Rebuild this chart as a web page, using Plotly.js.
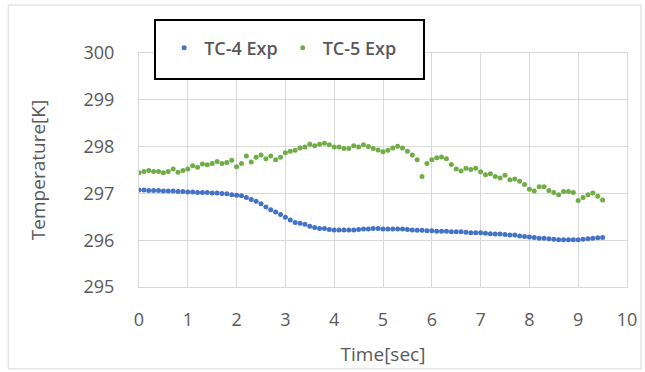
<!DOCTYPE html>
<html>
<head>
<meta charset="utf-8">
<script src="https://cdn.plot.ly/plotly-3.0.1.min.js"></script>
<style>html,body{margin:0;padding:0;background:#fff;}#chart{width:645px;height:372px;}</style>
</head>
<body>
<div id="chart"></div>
<script>
var timeSec = [0.0,0.1,0.2,0.3,0.4,0.5,0.6,0.7,0.8,0.9,1.0,1.1,1.2,1.3,1.4,1.5,1.6,1.7,1.8,1.9,
  2.0,2.1,2.2,2.3,2.4,2.5,2.6,2.7,2.8,2.9,3.0,3.1,3.2,3.3,3.4,3.5,3.6,3.7,3.8,3.9,
  4.0,4.1,4.2,4.3,4.4,4.5,4.6,4.7,4.8,4.9,5.0,5.1,5.2,5.3,5.4,5.5,5.6,5.7,5.8,5.9,
  6.0,6.1,6.2,6.3,6.4,6.5,6.6,6.7,6.8,6.9,7.0,7.1,7.2,7.3,7.4,7.5,7.6,7.7,7.8,7.9,
  8.0,8.1,8.2,8.3,8.4,8.5,8.6,8.7,8.8,8.9,9.0,9.1,9.2,9.3,9.4,9.5];

var tc4Exp = [297.07,297.07,297.06,297.06,297.06,297.05,297.05,297.05,297.04,297.04,
  297.03,297.03,297.02,297.02,297.02,297.01,297.01,297.00,296.99,296.97,
  296.96,296.95,296.91,296.87,296.83,296.78,296.71,296.65,296.60,296.55,
  296.49,296.43,296.38,296.36,296.34,296.30,296.27,296.25,296.25,296.23,
  296.22,296.22,296.22,296.22,296.22,296.23,296.24,296.24,296.25,296.25,
  296.24,296.24,296.24,296.24,296.24,296.23,296.22,296.21,296.21,296.20,
  296.20,296.19,296.19,296.19,296.18,296.18,296.18,296.17,296.16,296.16,
  296.16,296.15,296.14,296.13,296.13,296.12,296.11,296.11,296.09,296.08,
  296.07,296.06,296.04,296.04,296.03,296.02,296.01,296.01,296.01,296.01,
  296.01,296.02,296.03,296.04,296.05,296.06];

var tc5Exp = [297.44,297.47,297.49,297.47,297.47,297.44,297.47,297.52,297.45,297.49,
  297.52,297.59,297.56,297.63,297.61,297.64,297.68,297.64,297.66,297.71,
  297.57,297.64,297.80,297.67,297.77,297.82,297.74,297.80,297.72,297.77,
  297.87,297.90,297.92,297.97,297.99,298.05,298.02,298.05,298.07,298.04,
  297.99,297.99,297.96,297.96,298.02,297.99,298.04,298.00,297.96,297.93,
  297.89,297.92,297.97,298.01,297.97,297.90,297.82,297.72,297.36,297.64,
  297.72,297.76,297.78,297.74,297.62,297.52,297.48,297.54,297.51,297.54,
  297.46,297.40,297.42,297.36,297.33,297.39,297.29,297.31,297.26,297.19,
  297.09,297.05,297.14,297.14,297.06,297.02,296.97,297.04,297.04,297.02,
  296.85,296.91,296.97,297.01,296.94,296.86];

var seriesNames = ['TC-4 Exp', 'TC-5 Exp'];
var xTicks = [0,1,2,3,4,5,6,7,8,9,10];
var yTicks = [295,296,297,298,299,300];

var FONT = 'Open Sans, Noto Sans, sans-serif';
var GREY = '#595959';

var traces = [
  {x: timeSec, y: tc4Exp, name: seriesNames[0], type: 'scatter', mode: 'markers',
   marker: {color: '#4472C4', size: 5}},
  {x: timeSec, y: tc5Exp, name: seriesNames[1], type: 'scatter', mode: 'markers',
   marker: {color: '#70AD47', size: 5}}
];

var layout = {
  width: 645, height: 372,
  margin: {l: 139, r: 18, t: 53, b: 85},
  paper_bgcolor: '#ffffff', plot_bgcolor: '#ffffff',
  font: {family: FONT, color: GREY},
  showlegend: true,
  legend: {
    orientation: 'h', x: 0.0516, xanchor: 'left', y: 1.021, yanchor: 'middle',
    bgcolor: 'rgba(0,0,0,0)', borderwidth: 0,
    font: {family: FONT, size: 18, color: GREY, weight: 600},
    itemwidth: 30
  },
  xaxis: {
    range: [0, 10], tickvals: xTicks, ticktext: xTicks.map(String),
    showgrid: true, gridcolor: '#d9d9d9', gridwidth: 1,
    zeroline: false, showline: true, linecolor: '#d9d9d9', mirror: true,
    ticks: '', ticklabelstandoff: 16,
    tickfont: {family: FONT, size: 18, color: GREY},
    title: {text: 'Time[sec]', font: {family: FONT, size: 19, color: GREY}, standoff: 18},
    fixedrange: true
  },
  yaxis: {
    range: [295, 300], tickvals: yTicks, ticktext: yTicks.map(String),
    showgrid: true, gridcolor: '#d9d9d9', gridwidth: 1,
    zeroline: false, showline: true, linecolor: '#d9d9d9', mirror: true,
    ticks: '', ticklabelstandoff: 20,
    tickfont: {family: FONT, size: 18, color: GREY},
    title: {text: 'Temperature[K]', font: {family: FONT, size: 19, color: GREY}, standoff: 32},
    fixedrange: true
  },
  shapes: [
    {type: 'rect', xref: 'paper', yref: 'paper', x0: -0.268, x1: 1.0287, y0: -0.35, y1: 1.205,
     line: {color: '#d9d9d9', width: 1}, fillcolor: 'rgba(0,0,0,0)', layer: 'below'},
    {type: 'rect', xref: 'paper', yref: 'paper', x0: 0.0328, x1: 0.584, y0: 0.889, y1: 1.141,
     line: {color: '#000000', width: 2}, fillcolor: '#ffffff', layer: 'above'}
  ]
};

Plotly.newPlot('chart', traces, layout, {displayModeBar: false, staticPlot: true});
</script>
</body>
</html>
